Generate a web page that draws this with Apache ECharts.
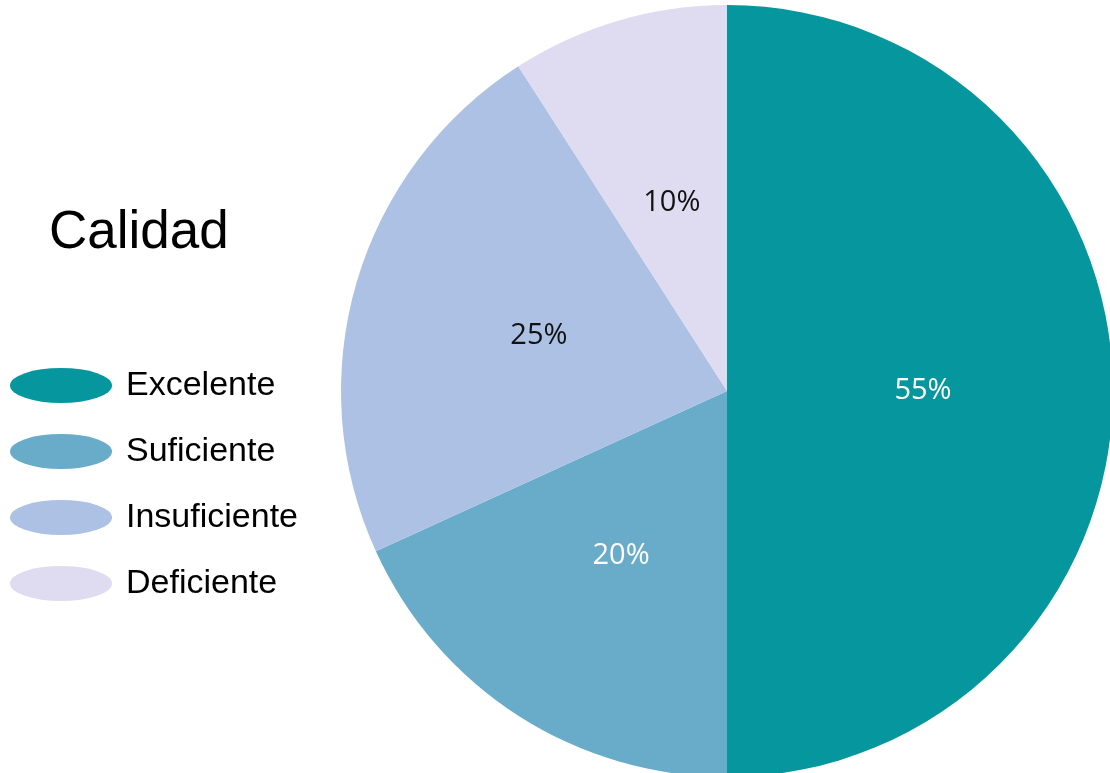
<!DOCTYPE html>
<html>
<head>
<meta charset="utf-8">
<script src="https://cdn.jsdelivr.net/npm/echarts@6/dist/echarts.min.js"></script>
<style>
  html, body { margin: 0; padding: 0; background: #ffffff; }
  #chart { width: 1110px; height: 773px; }
</style>
</head>
<body>
<div id="chart"></div>
<script>
// Calidad: share of responses per rating
const categories = ['Excelente', 'Suficiente', 'Insuficiente', 'Deficiente'];
const values = [55, 20, 25, 10];
const sliceColors = ['#05979D', '#69ACC9', '#ACC1E3', '#DFDBF0'];
const labelColors = ['#ffffff', '#ffffff', '#111111', '#111111'];

// flat ellipse swatch for the legend (its own 102:35 proportions)
const ellipseIcon = 'path://M0,17.5 A51,17.5 0 1,1 102,17.5 A51,17.5 0 1,1 0,17.5 Z';

const chart = echarts.init(document.getElementById('chart'), null, { renderer: 'canvas' });

chart.setOption({
  animation: false,
  backgroundColor: '#ffffff',
  title: {
    text: 'Calidad',
    left: 44,
    top: 202,
    textStyle: {
      fontFamily: 'Liberation Sans, Arial, sans-serif',
      fontSize: 53,
      fontWeight: 'normal',
      color: '#000000'
    }
  },
  legend: {
    orient: 'vertical',
    left: 10,
    top: 368,
    padding: 0,
    itemWidth: 102,
    itemHeight: 35,
    itemGap: 31,
    icon: ellipseIcon,
    data: categories,
    textStyle: {
      fontFamily: 'Liberation Sans, Arial, sans-serif',
      fontSize: 34,
      color: '#000000',
      padding: [0, 0, 0, 9]
    }
  },
  series: [{
    type: 'pie',
    center: [727, 391],
    radius: 386,
    startAngle: 90,
    clockwise: true,
    avoidLabelOverlap: false,
    label: {
      show: true,
      position: 'inside',
      formatter: '{c}%',
      fontFamily: 'Open Sans, sans-serif',
      fontSize: 29
    },
    labelLine: { show: false },
    emphasis: { disabled: true },
    data: categories.map((name, i) => ({
      name: name,
      value: values[i],
      itemStyle: { color: sliceColors[i] },
      label: { color: labelColors[i] }
    }))
  }]
});
</script>
</body>
</html>
